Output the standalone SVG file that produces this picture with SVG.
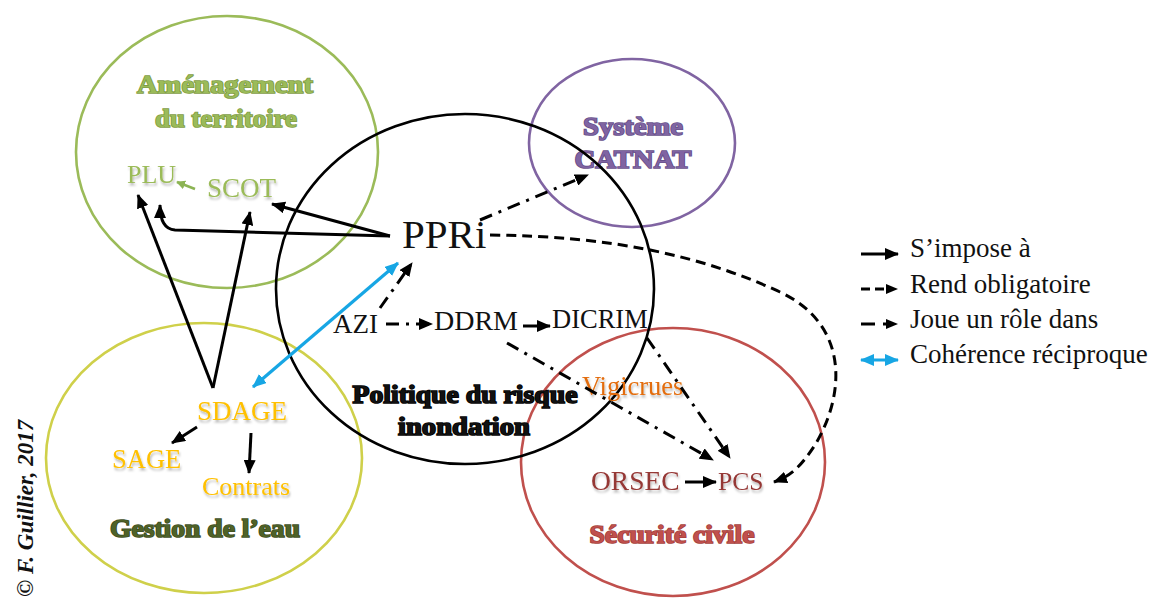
<svg xmlns="http://www.w3.org/2000/svg" width="1155" height="598" viewBox="0 0 1155 598">
  <defs>
    <style>
      .ell { fill: none; stroke-width: 2.6; }
      .lbl { font-family: "Liberation Serif", "Times New Roman", serif; }
      .head { font-family: "Liberation Serif", "Times New Roman", serif; font-weight: bold; font-size: 26px; text-anchor: middle; stroke-width: 1.7; paint-order: stroke; }
      .node { filter: url(#soft); }
      .con { fill: none; stroke: #000; stroke-width: 3; }
      .imp { marker-end: url(#ah); }
      .obl { stroke-dasharray: 10 6; marker-end: url(#ah); }
      .role { stroke-dasharray: 13 7 3 7; marker-end: url(#ah); }
      .coh { fill: none; stroke: #17A6E4; stroke-width: 3.2; marker-start: url(#ahb); marker-end: url(#ahb); }
      .leg { font-family: "Liberation Serif", "Times New Roman", serif; font-size: 27px; fill: #111; }
    </style>
    <filter id="soft" x="-20%" y="-30%" width="140%" height="170%">
      <feDropShadow dx="1" dy="2.5" stdDeviation="1.2" flood-color="#000" flood-opacity="0.28"/>
    </filter>
    <marker id="ah" viewBox="0 0 14 12" refX="13" refY="6" markerWidth="14" markerHeight="12" markerUnits="userSpaceOnUse" orient="auto">
      <path d="M0,0 L14,6 L0,12 z" fill="#000"/>
    </marker>
    <marker id="ahb" viewBox="0 0 14 12" refX="13" refY="6" markerWidth="14" markerHeight="12" markerUnits="userSpaceOnUse" orient="auto-start-reverse">
      <path d="M0,0 L14,6 L0,12 z" fill="#17A6E4"/>
    </marker>
    <marker id="ahg" viewBox="0 0 10 10" refX="9" refY="5" markerWidth="9" markerHeight="9" markerUnits="userSpaceOnUse" orient="auto">
      <path d="M0,0 L10,5 L0,10 z" fill="#8CB454"/>
    </marker>
  </defs>

  <rect width="1155" height="598" fill="#fff"/>

  <!-- Domain circles -->
  <g id="amenagement">
    <ellipse class="ell" cx="227" cy="152" rx="151" ry="136" stroke="#9BBB59"/>
    <text class="head" x="225" y="93" fill="#9BBB59" stroke="#7E9C44" textLength="176" lengthAdjust="spacingAndGlyphs">Aménagement</text>
    <text class="head" x="226" y="127" fill="#9BBB59" stroke="#7E9C44" textLength="142" lengthAdjust="spacingAndGlyphs">du territoire</text>
  </g>
  <g id="catnat">
    <ellipse class="ell" cx="632" cy="143" rx="103" ry="84" stroke="#8064A2"/>
    <text class="head" x="633" y="135" fill="#8064A2" stroke="#66508A" textLength="100" lengthAdjust="spacingAndGlyphs">Système</text>
    <text class="head" x="633" y="168" fill="#8064A2" stroke="#66508A" textLength="117" lengthAdjust="spacingAndGlyphs">CATNAT</text>
  </g>
  <g id="eau">
    <ellipse class="ell" cx="204" cy="458" rx="158" ry="135" stroke="#CFD04A"/>
    <text class="head" x="205" y="537" fill="#4F6228" stroke="#3E4E1F" textLength="190" lengthAdjust="spacingAndGlyphs">Gestion de l’eau</text>
  </g>
  <g id="securite">
    <ellipse class="ell" cx="673" cy="462" rx="152" ry="134" stroke="#C0504D"/>
    <text class="head" x="672" y="543" fill="#C0504D" stroke="#A33F3C" textLength="165" lengthAdjust="spacingAndGlyphs">Sécurité civile</text>
  </g>
  <g id="politique">
    <ellipse class="ell" cx="465" cy="289" rx="189" ry="175" stroke="#000"/>
    <text class="head" x="465" y="403" fill="#111" stroke="#000" textLength="225" lengthAdjust="spacingAndGlyphs">Politique du risque</text>
    <text class="head" x="464" y="435" fill="#111" stroke="#000" textLength="132" lengthAdjust="spacingAndGlyphs">inondation</text>
  </g>

  <!-- Documents -->
  <g id="plu" class="node"><text class="lbl" x="127" y="183" font-size="26" fill="#9BBB59">PLU</text></g>
  <g id="scot" class="node"><text class="lbl" x="207" y="197" font-size="27" fill="#9BBB59">SCOT</text></g>
  <g id="ppri"><text class="lbl" x="402" y="248" font-size="41" fill="#111">PPRi</text></g>
  <g id="azi"><text class="lbl" x="333" y="333" font-size="27" fill="#111">AZI</text></g>
  <g id="ddrm"><text class="lbl" x="434" y="330" font-size="28" fill="#111">DDRM</text></g>
  <g id="dicrim"><text class="lbl" x="552" y="328" font-size="26.5" fill="#111">DICRIM</text></g>
  <g id="vigicrues" class="node"><text class="lbl" x="582" y="395" font-size="26.5" fill="#E36C0A">Vigicrues</text></g>
  <g id="orsec" class="node"><text class="lbl" x="591" y="490" font-size="27.5" fill="#953735">ORSEC</text></g>
  <g id="pcs" class="node"><text class="lbl" x="718" y="490" font-size="25.5" fill="#953735">PCS</text></g>
  <g id="sdage" class="node"><text class="lbl" x="197" y="420" font-size="27" fill="#FFC000">SDAGE</text></g>
  <g id="sage" class="node"><text class="lbl" x="112" y="468" font-size="26.5" fill="#FFC000">SAGE</text></g>
  <g id="contrats" class="node"><text class="lbl" x="202" y="495" font-size="26" fill="#FFC000">Contrats</text></g>

  <!-- Connectors -->
  <g id="connectors">
    <!-- s'impose à -->
    <path class="con imp" d="M213,388 L138,195"/>
    <path class="con imp" d="M213,388 L250,212"/>
    <path class="con imp" d="M390,236 L272,204"/>
    <path class="con imp" d="M390,236 L175,230 Q160,229 160,205"/>
    <path class="con imp" d="M197,427 L172,443"/>
    <path class="con imp" d="M251,433 L249,473"/>
    <path class="con imp" d="M523,326 L550,326"/>
    <path class="con imp" d="M685,482 L716,482"/>
    <path d="M195,189 L177,182" fill="none" stroke="#8CB454" stroke-width="2.6" marker-end="url(#ahg)"/>
    <!-- rend obligatoire -->
    <path class="con obl" d="M490,235 C610,236 700,255 780,292 C850,325 845,395 815,445 C800,468 790,476 774,482"/>
    <!-- joue un rôle dans -->
    <path class="con role" d="M380,308 L412,263"/>
    <path class="con role" d="M386,324 L432,324"/>
    <path class="con role" d="M480,220 L588,175"/>
    <path class="con role" d="M507,343 L713,460"/>
    <path class="con role" d="M647,338 L730,458"/>
    <!-- cohérence réciproque -->
    <path class="coh" d="M253,387 L398,263"/>
  </g>

  <!-- Legend -->
  <g id="legend">
    <path class="con imp" d="M861,254 L898,254"/>
    <text class="leg" x="910" y="257">S’impose à</text>
    <path class="con" d="M861,289 L870,289 M875,289 L884,289" />
    <path d="M886,284 L898,289 L886,294 z" fill="#000"/>
    <text class="leg" x="910" y="293">Rend obligatoire</text>
    <path class="con" d="M861,324 L875,324 M883,324 L886,324"/>
    <path d="M886,319 L898,324 L886,329 z" fill="#000"/>
    <text class="leg" x="910" y="328">Joue un rôle dans</text>
    <path class="coh" d="M861,360 L898,360"/>
    <text class="leg" x="910" y="363">Cohérence réciproque</text>
  </g>

  <!-- Credit -->
  <text transform="translate(33,597) rotate(-90)" font-family="Liberation Serif, serif" font-weight="bold" font-style="italic" font-size="23" fill="#111">© F. Guillier, 2017</text>
</svg>
